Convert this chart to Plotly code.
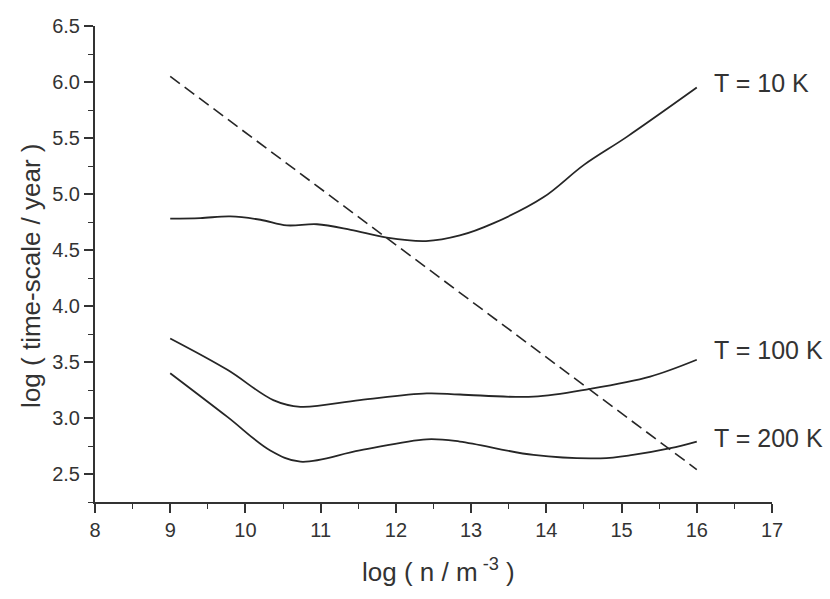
import plotly.graph_objects as go

# Data
t10_x = [9.0, 9.4, 9.8, 10.2, 10.55, 10.95, 11.4, 11.88, 12.4, 12.85, 13.3, 13.96, 14.5, 15.07, 16.0]
t10_y = [4.78, 4.785, 4.80, 4.77, 4.72, 4.73, 4.68, 4.61, 4.58, 4.63, 4.74, 4.97, 5.26, 5.51, 5.95]

t100_x = [9.0, 9.76, 10.37, 10.73, 11.52, 12.41, 12.85, 13.83, 14.58, 15.38, 16.0]
t100_y = [3.71, 3.43, 3.16, 3.10, 3.16, 3.22, 3.21, 3.19, 3.26, 3.37, 3.52]

t200_x = [9.0, 9.76, 10.33, 10.73, 11.52, 12.41, 12.85, 13.83, 14.72, 15.15, 15.65, 16.0]
t200_y = [3.40, 3.01, 2.71, 2.61, 2.71, 2.81, 2.79, 2.67, 2.64, 2.67, 2.73, 2.79]

dash_x = [9.0, 16.0]
dash_y = [6.05, 2.54]

labels = ["T = 10 K", "T = 100 K", "T = 200 K"]

x_ticks = list(range(8, 18))
y_ticks = [2.5, 3.0, 3.5, 4.0, 4.5, 5.0, 5.5, 6.0, 6.5]

x_title = "log ( n / m<sup> -3</sup> )"
y_title = "log ( time-scale / year )"

LINE = "#262626"
TEXT = "#333333"
FONT = "Liberation Sans, Arial, Helvetica, sans-serif"

fig = go.Figure()
for xs, ys in [(t10_x, t10_y), (t100_x, t100_y), (t200_x, t200_y)]:
    fig.add_trace(go.Scatter(x=xs, y=ys, mode="lines",
                             line=dict(color=LINE, width=1.8, shape="spline", smoothing=1.0),
                             showlegend=False, hoverinfo="skip"))
fig.add_trace(go.Scatter(x=dash_x, y=dash_y, mode="lines",
                         line=dict(color=LINE, width=1.6, dash="12px,6px"),
                         showlegend=False, hoverinfo="skip"))

ann = []
for lab, xs, ys, ysh in [(labels[0], t10_x, t10_y, 5),
                         (labels[1], t100_x, t100_y, 10),
                         (labels[2], t200_x, t200_y, 4)]:
    ann.append(dict(x=xs[-1], y=ys[-1], xref="x", yref="y", text=lab,
                    showarrow=False, xanchor="left", yanchor="middle",
                    xshift=15, yshift=ysh,
                    font=dict(family=FONT, size=25, color=TEXT)))

# axis titles as annotations for precise placement
ann.append(dict(x=0.507, y=0, xref="paper", yref="paper", text=x_title,
                showarrow=False, xanchor="center", yanchor="middle", yshift=-68,
                font=dict(family=FONT, size=26, color=TEXT)))
ann.append(dict(x=0, y=0.475, xref="paper", yref="paper", text=y_title,
                showarrow=False, xanchor="center", yanchor="middle", xshift=-64,
                textangle=-90, font=dict(family=FONT, size=26, color=TEXT)))

fig.update_layout(
    width=830, height=599,
    margin=dict(l=95, r=58, t=26, b=97, autoexpand=False),
    paper_bgcolor="white", plot_bgcolor="white",
    annotations=ann,
    font=dict(family=FONT, color=TEXT),
)
common = dict(showgrid=False, zeroline=False, showline=True, linecolor="#333333", linewidth=2,
              ticks="outside", ticklen=9, tickwidth=1.6, tickcolor="#333333",
              tickfont=dict(family=FONT, size=20, color=TEXT), automargin=False)
fig.update_xaxes(
    range=[8, 17], tickvals=x_ticks, ticktext=[str(v) for v in x_ticks],
    minor=dict(dtick=0.5, tick0=8, ticks="outside", ticklen=5, tickwidth=1.4, tickcolor="#333333"),
    **common,
)
fig.update_yaxes(
    range=[2.25, 6.5], tickvals=y_ticks, ticktext=["%.1f" % v for v in y_ticks],
    minor=dict(dtick=0.25, tick0=2.25, ticks="outside", ticklen=5, tickwidth=1.4, tickcolor="#333333"),
    **common,
)

fig.write_html("out.html", config={"displayModeBar": False},
               post_script="document.body.style.margin='0';document.body.style.padding='0';")
